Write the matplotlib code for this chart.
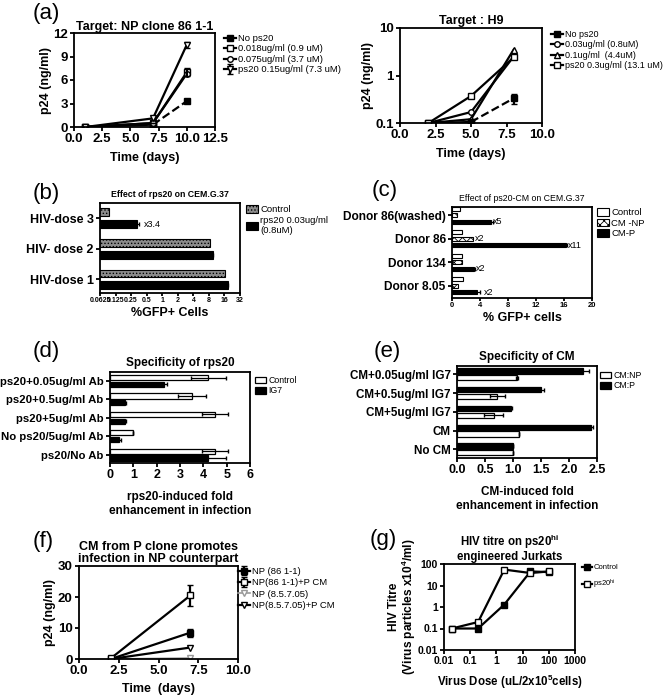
import numpy as np
import matplotlib
matplotlib.use('Agg')
import matplotlib.pyplot as plt
from matplotlib.ticker import FixedLocator, NullLocator

plt.rcParams['font.family'] = ['Liberation Sans', 'DejaVu Sans']
plt.rcParams['hatch.linewidth'] = 0.6
plt.rcParams['mathtext.default'] = 'regular'

W, H = 664, 695
fig = plt.figure(figsize=(W / 100, H / 100), dpi=100)

# ---------------- data ----------------
# (a) left: NP clone 86 1-1
a1_days = [1, 7, 10]
a1_none = [0, 0.3, 3.3]
a1_018 = [0, 0.5, 7.0]
a1_075 = [0, 0.5, 6.8]
a1_15 = [0, 1.1, 10.5]
a1_err = [0, 0, 0.4]

# (a) right: H9
a2_days = [2, 5, 8]
a2_none = [0.1, 0.105, 0.33]
a2_none_err = [0, 0, 0.08]
a2_03 = [0.1, 0.17, 2.5]
a2_1 = [0.1, 0.12, 3.5]
a2_3 = [0.1, 0.37, 2.4]

# (b) effect of rps20 on CEM.G.37
b_doses = ['HIV-dose 1', 'HIV- dose 2', 'HIV-dose 3']
b_control = [16.5, 8.3, 0.094]
b_rps20 = [18.5, 9.4, 0.32]
b_rps20_err = [0.5, 0.3, 0.03]

# (c) effect of ps20-CM
c_donors = ['Donor 8.05', 'Donor 134', 'Donor 86', 'Donor 86(washed)']
c_control = [1.6, 1.4, 1.4, 1.1]
c_cmnp = [0.8, 1.4, 3.0, 0.7]
c_cmp = [3.6, 3.1, 16.3, 5.5]
c_cmp_err = [0.4, 0.15, 0.15, 0.3]

# (d) specificity of rps20
d_groups = ['ps20/No Ab', 'No ps20/5ug/ml Ab', 'ps20+5ug/ml Ab',
            'ps20+0.5ug/ml Ab', 'ps20+0.05ug/ml Ab']
d_control = [4.5, 1.0, 4.5, 3.5, 4.2]
d_control_err = [0.55, 0, 0.55, 0.6, 0.75]
d_ig7 = [4.2, 0.4, 0.65, 0.65, 2.3]
d_ig7_err = [0.75, 0.05, 0.05, 0.05, 0.15]

# (e) specificity of CM
e_groups = ['No CM', 'CM', 'CM+5ug/ml IG7', 'CM+0.5ug/ml IG7', 'CM+0.05ug/ml IG7']
e_np = [1.0, 1.1, 0.66, 0.72, 1.07]
e_np_err = [0, 0, 0.17, 0.13, 0.02]
e_p = [1.0, 2.4, 0.96, 1.5, 2.25]
e_p_err = [0, 0.02, 0.02, 0.05, 0.1]

# (f) CM from P clone
f_days = [2, 7]
f_np86 = [0, 8.5]
f_np86_err = [0, 1.3]
f_np86cm = [0.2, 20.5]
f_np86cm_err = [0, 3.5]
f_np8 = [0, 0.3]
f_np8cm = [0, 3.7]

# (g) HIV titre
g_dose = [0.02, 0.2, 2, 20, 100]
g_control = [0.1, 0.1, 1.3, 45, 42]
g_ps20hi = [0.1, 0.2, 55, 38, 45]


def ax_px(x0, y0, x1, y1):
    return fig.add_axes([x0 / W, 1 - y1 / H, (x1 - x0) / W, (y1 - y0) / H])


def style(ax, fs=8):
    for s in ax.spines.values():
        s.set_linewidth(1.3)
    ax.tick_params(direction='out', width=1.3, length=3, labelsize=fs, pad=1.5)
    for lab in ax.get_xticklabels() + ax.get_yticklabels():
        lab.set_fontweight('bold')


def leg(ax, x, y, fs=6.5, spacing=0.15, **kw):
    ax.legend(loc='upper left', bbox_to_anchor=(x / W, 1 - y / H),
              bbox_transform=fig.transFigure, frameon=False, fontsize=fs,
              handlelength=1.3, handletextpad=0.2, borderpad=0,
              labelspacing=spacing, borderaxespad=0, **kw)


def panel(label, x, y):
    fig.text(x / W, 1 - y / H, label, fontsize=16, ha='left', va='center')


mk = dict(color='black', lw=1.6, ms=5, mec='black')

# ---------------- (a) left ----------------
ax = ax_px(74, 33, 215, 127)
ax.plot(a1_days[:2], a1_none[:2], marker='s', mfc='black', label='No ps20', **mk)
ax.plot(a1_days[1:], a1_none[1:], marker='s', mfc='black', ls='--', **mk)
ax.plot(a1_days, a1_018, marker='s', mfc='white', label='0.018ug/ml (0.9 uM)', **mk)
ax.plot(a1_days, a1_075, marker='o', mfc='white', ms=4, color='black', lw=1.6, mec='black',
        label='0.075ug/ml (3.7 uM)')
ax.errorbar(a1_days, a1_15, yerr=a1_err, marker='v', mfc='white', capsize=2,
            label='ps20 0.15ug/ml (7.3 uM)', **mk)
ax.errorbar(a1_days, a1_018, yerr=[0, 0, 0.5], fmt='none', ecolor='black', capsize=2)
ax.set_xlim(0, 12.5)
ax.set_ylim(0, 12)
ax.set_xticks([0, 2.5, 5, 7.5, 10, 12.5])
ax.set_yticks([0, 3, 6, 9, 12])
ax.set_title('Target: NP clone 86 1-1', fontsize=9, fontweight='bold', pad=2)
ax.set_ylabel('p24 (ng/ml)', fontsize=9, fontweight='bold', labelpad=1)
ax.set_xlabel('Time (days)', fontsize=9, fontweight='bold', labelpad=5)
style(ax, 9.5)
leg(ax, 224, 34, fs=6.8)
panel('(a)', 33, 13)

# ---------------- (a) right ----------------
ax = ax_px(400, 28, 542, 123)
ax.plot(a2_days[:2], a2_none[:2], marker='s', mfc='black', label='No ps20', **mk)
ax.errorbar(a2_days[1:], a2_none[1:], yerr=[[0, 0.08], [0, 0.08]], marker='s',
            mfc='black', ls='--', capsize=2, **mk)
ax.plot(a2_days, a2_03, marker='o', mfc='white', ms=4, color='black', lw=1.6, mec='black',
        label='0.03ug/ml (0.8uM)')
ax.plot(a2_days, a2_1, marker='^', mfc='white', label='0.1ug/ml  (4.4uM)', **mk)
ax.plot(a2_days, a2_3, marker='s', mfc='white', label='ps20 0.3ug/ml (13.1 uM)', **mk)
ax.set_yscale('log')
ax.set_xlim(0, 10)
ax.set_ylim(0.1, 10)
ax.set_xticks([0, 2.5, 5, 7.5, 10])
ax.set_yticks([0.1, 1, 10])
ax.set_yticklabels(['0.1', '1', '10'])
ax.yaxis.set_minor_locator(NullLocator())
ax.set_title('Target : H9', fontsize=9, fontweight='bold', pad=3)
ax.set_ylabel('p24 (ng/ml)', fontsize=9, fontweight='bold', labelpad=1)
ax.set_xlabel('Time (days)', fontsize=9, fontweight='bold', labelpad=5)
style(ax, 9.5)
leg(ax, 551, 30, fs=6.5)

# ---------------- (b) ----------------
ax = ax_px(100, 203, 240, 293)
yb = np.arange(len(b_doses))
ax.barh(yb + 0.19, b_control, height=0.26, color='#8c8c8c',
        hatch='.....', edgecolor='black', lw=0.8, label='Control')
ax.barh(yb - 0.19, b_rps20, height=0.26, xerr=b_rps20_err, color='black',
        edgecolor='black', lw=0.8, capsize=1.5, error_kw=dict(lw=0.8),
        label='rps20 0.03ug/ml\n(0.8uM)')
ax.set_xscale('log', base=2)
ax.set_xlim(0.0625, 32)
ax.set_ylim(-0.45, 2.5)
bt = [0.0625, 0.125, 0.25, 0.5, 1, 2, 4, 8, 16, 32]
ax.xaxis.set_major_locator(FixedLocator(bt))
ax.xaxis.set_minor_locator(NullLocator())
ax.set_xticklabels(['0.0625', '0.125', '0.25', '0.5', '1', '2', '4', '8', '16', '32'])
ax.set_yticks(yb)
ax.set_yticklabels(b_doses)
style(ax, 5)
for lab in ax.get_yticklabels():
    lab.set_fontsize(9)
ax.tick_params(axis='x', length=2, pad=1)
ax.text(0.45, 2 - 0.19, 'x3.4', fontsize=6.5, va='center')
ax.set_title('Effect of rps20 on CEM.G.37', fontsize=6.3, fontweight='bold', pad=4)
ax.set_xlabel('%GFP+ Cells', fontsize=9, fontweight='bold', labelpad=2)
leg(ax, 246, 205, fs=6.8, handleheight=1.0)
panel('(b)', 33, 193)

# ---------------- (c) ----------------
ax = ax_px(452, 207, 592, 298)
yc = np.arange(len(c_donors))
ax.barh(yc + 0.28, c_control, height=0.17, color='white', edgecolor='black', lw=0.8,
        label='Control')
ax.barh(yc, c_cmnp, height=0.17, color='white', hatch='xxxx', edgecolor='black', lw=0.8,
        label='CM -NP')
ax.barh(yc - 0.28, c_cmp, height=0.17, xerr=c_cmp_err, color='black', edgecolor='black',
        lw=0.8, capsize=1.5, error_kw=dict(lw=0.8), label='CM-P')
ax.text(c_cmp[0] + 0.9, yc[0] - 0.28, 'x2', fontsize=6.5, va='center')
ax.text(c_cmp[1] + 0.3, yc[1] - 0.28, 'x2', fontsize=6.5, va='center')
ax.text(c_cmnp[2] + 0.3, yc[2], 'x2', fontsize=6.5, va='center')
ax.text(c_cmp[2] + 0.3, yc[2] - 0.28, 'x11', fontsize=6.5, va='center')
ax.text(c_cmp[3] + 0.4, yc[3] - 0.28, 'x5', fontsize=6.5, va='center')
ax.set_xlim(0, 20)
ax.set_ylim(-0.53, 3.36)
ax.set_xticks([0, 4, 8, 12, 16, 20])
ax.set_yticks(yc)
ax.set_yticklabels(c_donors)
style(ax, 5.5)
for lab in ax.get_yticklabels():
    lab.set_fontsize(8.6)
ax.tick_params(axis='x', length=2, pad=1)
ax.set_title('Effect of ps20-CM on CEM.G.37', fontsize=6.3, pad=4)
ax.set_xlabel('% GFP+ cells', fontsize=9, fontweight='bold', labelpad=2)
leg(ax, 597, 208, fs=6.8, handleheight=0.9)
panel('(c)', 372, 190)

# ---------------- (d) ----------------
ax = ax_px(110, 372, 250, 463)
yd = np.arange(len(d_groups))
ax.barh(yd + 0.18, d_control, height=0.28, xerr=d_control_err, color='white',
        edgecolor='black', lw=0.9, capsize=1.5, error_kw=dict(lw=0.9), label='Control')
ax.barh(yd - 0.18, d_ig7, height=0.28, xerr=d_ig7_err, color='black',
        edgecolor='black', lw=0.9, capsize=1.5, error_kw=dict(lw=0.9), label='IG7')
ax.set_xlim(0, 6)
ax.set_ylim(-0.45, 4.48)
ax.set_xticks(range(7))
ax.set_yticks(yd)
ax.set_yticklabels(d_groups)
style(ax, 9)
for lab in ax.get_yticklabels():
    lab.set_fontsize(8.2)
ax.set_title('Specificity of rps20', fontsize=8.5, fontweight='bold', pad=4)
ax.set_xlabel('rps20-induced fold\nenhancement in infection', fontsize=8.5,
              fontweight='bold', labelpad=7)
leg(ax, 255, 376, fs=6.3, handleheight=0.8)
panel('(d)', 33, 352)

# ---------------- (e) ----------------
ax = ax_px(457, 366, 597, 458)
ye = np.arange(len(e_groups))
ax.barh(ye - 0.18, e_np, height=0.28, xerr=e_np_err, color='white', edgecolor='black',
        lw=0.9, capsize=1.5, error_kw=dict(lw=0.9), label='CM:NP')
ax.barh(ye + 0.18, e_p, height=0.28, xerr=e_p_err, color='black', edgecolor='black',
        lw=0.9, capsize=1.5, error_kw=dict(lw=0.9), label='CM:P')
ax.set_xlim(0, 2.5)
ax.set_ylim(-0.46, 4.44)
ax.set_xticks([0, 0.5, 1, 1.5, 2, 2.5])
ax.set_yticks(ye)
ax.set_yticklabels(e_groups)
style(ax, 9)
for lab in ax.get_yticklabels():
    lab.set_fontsize(8.4)
ax.set_title('Specificity of CM', fontsize=8.5, fontweight='bold', pad=4)
ax.set_xlabel('CM-induced fold\nenhancement in infection', fontsize=8.5,
              fontweight='bold', labelpad=7)
leg(ax, 600, 371, fs=6.3, handleheight=0.8)
panel('(e)', 374, 352)

# ---------------- (f) ----------------
ax = ax_px(79, 566, 238, 659)
h1 = ax.errorbar(f_days, f_np86, yerr=f_np86_err, marker='s', mfc='black', capsize=2,
                 label='NP (86 1-1)', **mk)
h2 = ax.errorbar(f_days, f_np86cm, yerr=f_np86cm_err, marker='s', mfc='white', capsize=2,
                 label='NP(86 1-1)+P CM', **mk)
h3, = ax.plot(f_days, f_np8, marker='v', mfc='white', color='#999999', mec='#999999',
              lw=1.2, ms=5, label='NP (8.5.7.05)')
h4, = ax.plot(f_days, f_np8cm, marker='v', mfc='white', label='NP(8.5.7.05)+P CM', **mk)
ax.set_xlim(0, 10)
ax.set_ylim(0, 30)
ax.set_xticks([0, 2.5, 5, 7.5, 10])
ax.set_yticks([0, 10, 20, 30])
ax.set_title('CM from P clone promotes\ninfection in NP counterpart', fontsize=9,
             fontweight='bold', pad=3, linespacing=1.0)
ax.set_ylabel('p24 (ng/ml)', fontsize=9, fontweight='bold', labelpad=1)
ax.set_xlabel('Time  (days)', fontsize=9, fontweight='bold', labelpad=4)
style(ax, 9.5)
ax.legend([h1, h2, h3, h4], [h.get_label() for h in [h1, h2, h3, h4]],
          loc='upper left', bbox_to_anchor=(238 / W, 1 - 567 / H),
          bbox_transform=fig.transFigure, frameon=False, fontsize=6.8,
          handlelength=1.3, handletextpad=0.2, borderpad=0, labelspacing=0.25,
          borderaxespad=0)
panel('(f)', 33, 541)

# ---------------- (g) ----------------
ax = ax_px(444, 564, 575, 650)
ax.plot(g_dose, g_control, marker='s', mfc='black', label='Control', **mk)
ax.plot(g_dose, g_ps20hi, marker='s', mfc='white', label='ps20$^{hi}$', **mk)
ax.set_xscale('log')
ax.set_yscale('log')
ax.set_xlim(0.01, 1000)
ax.set_ylim(0.01, 100)
ax.set_xticks([0.01, 0.1, 1, 10, 100, 1000])
ax.set_xticklabels(['0.01', '0.1', '1', '10', '100', '1000'])
ax.set_yticks([0.01, 0.1, 1, 10, 100])
ax.set_yticklabels(['0.01', '0.1', '1', '10', '100'])
ax.xaxis.set_minor_locator(NullLocator())
ax.yaxis.set_minor_locator(NullLocator())
ax.set_title('HIV titre on ps20$^{hi}$\nengineered Jurkats', fontsize=8.3,
             fontweight='bold', pad=3, linespacing=1.0)
ax.set_ylabel('HIV Titre\n(Virus particles x10$^4$/ml)', fontsize=8.6, fontweight='bold',
              labelpad=0, linespacing=0.95)
ax.set_xlabel('Virus Dose (uL/2x10$^5$cells)', fontsize=8.3, fontweight='bold', labelpad=5)
style(ax, 7.5)
leg(ax, 582, 564, fs=5.5, spacing=0.8)
panel('(g)', 370, 539)

fig.savefig('out.png', dpi=100)
